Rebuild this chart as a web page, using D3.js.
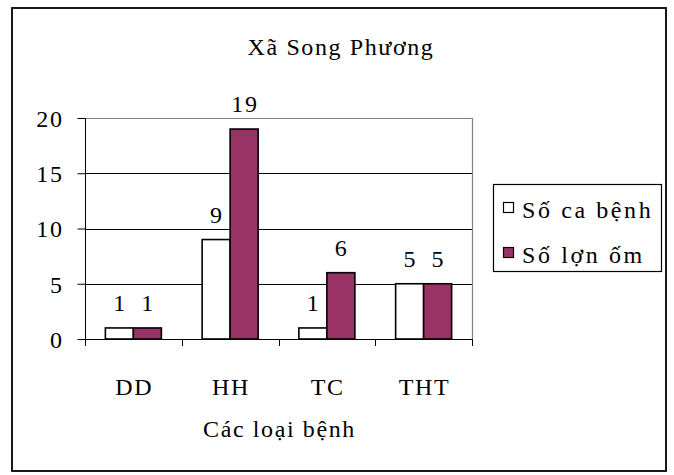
<!DOCTYPE html>
<html><head><meta charset="utf-8">
<script src="https://cdn.jsdelivr.net/npm/d3@7"></script>
</head><body style="margin:0"><svg id="c" width="674" height="475"></svg>
<script>
const categories = ["DD","HH","TC","THT"];
const seriesNames = ["Số ca bệnh","Số lợn ốm"];
const soCaBenh = [1,9,1,5];
const soLonOm = [1,19,6,5];
const yTicks = [0,5,10,15,20];
const title = "Xã Song Phương";
const xTitle = "Các loại bệnh";

const LS = 1.6;
const colors = ["#ffffff","#993366"];
const svg = d3.select("#c");
const fs = 24;
const m = {l:85, r:472, t:118, b:339};

function txt(sel, ls){ ls = ls==null ? LS : ls; return sel.attr("font-family","Liberation Serif").attr("font-size",fs)
  .attr("style","font-family:'Liberation Serif';font-size:"+fs+"px;letter-spacing:"+ls+"px").attr("fill","#000"); }

svg.append("rect").attr("x",12).attr("y",8).attr("width",654).attr("height",463)
  .attr("fill","#fff").attr("stroke","#000").attr("stroke-width",1.8);

const x = d3.scaleBand().domain(categories).range([m.l,m.r]);
const y = d3.scaleLinear().domain([0,20]).range([m.b,m.t]);

svg.append("g").selectAll("line").data(yTicks.filter(d=>d>0&&d<20)).join("line")
  .attr("x1",m.l).attr("x2",m.r).attr("y1",d=>Math.round(y(d))+0.5).attr("y2",d=>Math.round(y(d))+0.5)
  .attr("stroke","#000").attr("stroke-width",1);
svg.append("path").attr("d",`M${m.l},${Math.round(y(20))+0.5}H${m.r+0.5}V${m.b}`)
  .attr("fill","none").attr("stroke","#808080").attr("stroke-width",1.2);

const bw = 28;
const data = [];
categories.forEach((c,i)=>{ data.push({c,s:0,v:soCaBenh[i]}); data.push({c,s:1,v:soLonOm[i]}); });
const cx = c => x(c)+x.bandwidth()/2;
const g = svg.append("g");
g.selectAll("rect").data(data).join("rect")
  .attr("x",d=>cx(d.c)-bw+d.s*bw).attr("width",bw)
  .attr("y",d=>y(d.v)).attr("height",d=>y(0)-y(d.v))
  .attr("fill",d=>colors[d.s]).attr("stroke","#000").attr("stroke-width",1.6);
txt(g.selectAll("text").data(data).join("text"))
  .attr("x",d=>cx(d.c)-bw/2+d.s*bw+LS/2).attr("y",d=>y(d.v)-17)
  .attr("text-anchor","middle").text(d=>d.v);

const ya = d3.axisLeft(y).tickValues(yTicks).tickSize(8).tickPadding(14);
const yg = svg.append("g").attr("transform",`translate(${m.l+0.5},0)`).call(ya);
yg.attr("font-family","Liberation Serif").attr("font-size",fs);
yg.select(".domain").attr("d",`M0,${y(20)}V${y(0)+7}`).attr("stroke","#000");
yg.selectAll(".tick line").attr("stroke","#000");
txt(yg.selectAll(".tick text")).attr("dy","0.35em");

svg.append("line").attr("x1",m.l).attr("x2",m.r).attr("y1",m.b+0.5).attr("y2",m.b+0.5).attr("stroke","#000").attr("stroke-width",1.2);
const bounds = categories.map(c=>x(c)).concat([m.r]);
svg.append("g").selectAll("line").data(bounds).join("line")
  .attr("x1",d=>Math.round(d)+0.5).attr("x2",d=>Math.round(d)+0.5).attr("y1",m.b).attr("y2",m.b+7).attr("stroke","#000");
txt(svg.append("g").selectAll("text").data(categories).join("text"))
  .attr("x",c=>cx(c)+LS/2).attr("y",395).attr("text-anchor","middle").text(c=>c);

txt(svg.append("text")).attr("x",(m.l+m.r)/2+1).attr("y",437).attr("text-anchor","middle").text(xTitle);
txt(svg.append("text")).attr("x",341).attr("y",55).attr("text-anchor","middle").text(title);

const lg = svg.append("g");
lg.append("rect").attr("x",493.5).attr("y",184.5).attr("width",168).attr("height",87).attr("fill","#fff").attr("stroke","#000").attr("stroke-width",1.2);
const li = lg.selectAll("g").data(seriesNames).join("g").attr("transform",(d,i)=>`translate(0,${i*45})`);
li.append("rect").attr("x",503.5).attr("y",202.5).attr("width",10).attr("height",10).attr("fill",(d,i)=>colors[i]).attr("stroke","#000").attr("stroke-width",1.2);
txt(li.append("text"), 2.6).attr("x",522).attr("y",218).text(d=>d);
</script></body></html>
